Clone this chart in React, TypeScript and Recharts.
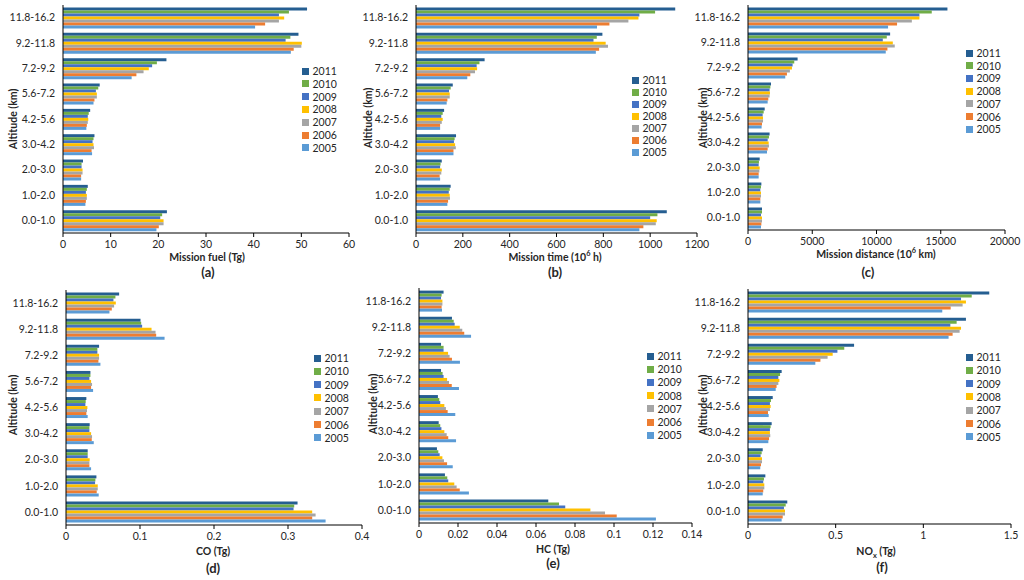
import React from 'react';
import { BarChart, Bar, XAxis, YAxis } from 'recharts';

// altitude bands, top to bottom as drawn
const ALTITUDES = ['11.8-16.2', '9.2-11.8', '7.2-9.2', '5.6-7.2', '4.2-5.6', '3.0-4.2', '2.0-3.0', '1.0-2.0', '0.0-1.0'];
const YEARS = ['2011', '2010', '2009', '2008', '2007', '2006', '2005'];
const COLORS = ['#255E91', '#70AD47', '#4472C4', '#FFC000', '#A5A5A5', '#ED7D31', '#5B9BD5'];

// one row per year (same order as YEARS), one value per altitude band
const FUEL = [
  [51.2, 49.4, 21.7, 7.7, 5.7, 6.6, 4.2, 5.2, 21.8],
  [47.4, 47.7, 19.7, 7.4, 5.4, 6.4, 3.9, 5.0, 20.8],
  [45.3, 46.7, 18.7, 6.9, 5.2, 6.2, 3.9, 4.8, 20.4],
  [46.4, 50.1, 18.0, 7.1, 5.3, 6.4, 4.1, 5.0, 21.1],
  [45.3, 50.0, 16.9, 7.1, 5.2, 6.5, 4.1, 5.0, 21.1],
  [42.4, 48.4, 15.4, 6.6, 5.0, 6.0, 3.8, 4.8, 20.1],
  [40.3, 47.8, 14.4, 6.4, 4.9, 6.1, 3.8, 4.7, 19.6],
];

const TIME = [
  [1107, 796, 293, 157, 120, 171, 110, 148, 1071],
  [1021, 772, 271, 148, 114, 165, 105, 144, 1031],
  [954, 758, 259, 141, 108, 162, 103, 140, 1000],
  [950, 810, 261, 144, 114, 167, 110, 144, 1028],
  [907, 820, 252, 144, 110, 170, 108, 145, 1024],
  [826, 782, 232, 134, 103, 160, 101, 137, 971],
  [773, 768, 219, 131, 103, 160, 103, 134, 954],
];

const DISTANCE = [
  [15520, 11060, 3860, 1790, 1300, 1680, 910, 1040, 1090],
  [14300, 10800, 3600, 1740, 1220, 1630, 850, 1010, 1090],
  [13340, 10490, 3470, 1680, 1140, 1530, 830, 960, 1010],
  [13340, 11270, 3420, 1710, 1170, 1610, 910, 1010, 1090],
  [12750, 11420, 3260, 1680, 1170, 1630, 880, 1010, 1090],
  [11600, 10850, 3030, 1580, 1090, 1530, 830, 960, 1040],
  [10900, 10720, 2900, 1530, 1060, 1480, 830, 960, 1010],
];

const CO = [
  [0.0718, 0.1007, 0.0447, 0.033, 0.0275, 0.032, 0.0293, 0.0411, 0.3129],
  [0.0668, 0.1016, 0.0424, 0.033, 0.0266, 0.0316, 0.0293, 0.0397, 0.3084],
  [0.0641, 0.1029, 0.0424, 0.0316, 0.0262, 0.0316, 0.0293, 0.0393, 0.3075],
  [0.0673, 0.1156, 0.0447, 0.0339, 0.0289, 0.0339, 0.032, 0.0429, 0.3327],
  [0.065, 0.121, 0.0447, 0.0352, 0.0284, 0.0352, 0.0316, 0.0429, 0.3373],
  [0.0619, 0.1219, 0.0438, 0.0339, 0.0275, 0.0348, 0.0316, 0.0415, 0.3327],
  [0.0587, 0.1332, 0.0465, 0.0366, 0.0293, 0.0375, 0.0339, 0.0442, 0.3508],
];

const HC = [
  [0.0126, 0.0169, 0.0113, 0.0113, 0.0097, 0.0101, 0.0092, 0.0133, 0.0663],
  [0.0116, 0.0178, 0.0126, 0.0121, 0.0104, 0.0109, 0.0099, 0.0145, 0.0718],
  [0.0113, 0.0183, 0.0126, 0.0126, 0.0109, 0.0115, 0.0106, 0.015, 0.075],
  [0.012, 0.0209, 0.0149, 0.0144, 0.013, 0.013, 0.012, 0.0181, 0.0879],
  [0.012, 0.0222, 0.0157, 0.0154, 0.0138, 0.0142, 0.0128, 0.0193, 0.0954],
  [0.0116, 0.0232, 0.0169, 0.0168, 0.0147, 0.015, 0.0144, 0.0209, 0.1014],
  [0.0118, 0.0267, 0.021, 0.0205, 0.0186, 0.019, 0.0173, 0.0256, 0.1215],
];

const NOX = [
  [1.376, 1.243, 0.605, 0.192, 0.141, 0.135, 0.084, 0.099, 0.224],
  [1.276, 1.19, 0.549, 0.183, 0.131, 0.129, 0.078, 0.091, 0.215],
  [1.215, 1.154, 0.51, 0.173, 0.125, 0.125, 0.072, 0.087, 0.205],
  [1.243, 1.215, 0.483, 0.179, 0.129, 0.125, 0.08, 0.093, 0.211],
  [1.224, 1.207, 0.454, 0.173, 0.125, 0.127, 0.08, 0.093, 0.211],
  [1.156, 1.167, 0.413, 0.163, 0.114, 0.12, 0.074, 0.087, 0.198],
  [1.108, 1.144, 0.384, 0.158, 0.118, 0.116, 0.07, 0.084, 0.192],
];

const FUEL_TICKS = [0, 10, 20, 30, 40, 50, 60];
const TIME_TICKS = [0, 200, 400, 600, 800, 1000, 1200];
const DISTANCE_TICKS = [0, 5000, 10000, 15000, 20000];
const CO_TICKS = [0, 0.1, 0.2, 0.3, 0.4];
const HC_TICKS = [0, 0.02, 0.04, 0.06, 0.08, 0.1, 0.12, 0.14];
const NOX_TICKS = [0, 0.5, 1, 1.5];

const FONT = 'Lato, "Noto Sans", sans-serif';
const TEXT = '#262626';

type Box = { left: number; right: number; top: number; bottom: number };
type Pt = { x: number; y: number };

interface PanelProps {
  values: number[][];
  ticks: number[];
  plot: Box;
  legend: { x: number; y: number; step: number };
  xTitle: React.ReactNode;
  xTitleAt: Pt;
  yTitleAt: Pt;
  tag: string;
  tagAt: Pt;
}

const Centered: React.FC<{ at: Pt; style?: React.CSSProperties; children: React.ReactNode }> = ({ at, style, children }) => (
  <div
    style={{
      position: 'absolute',
      left: at.x,
      top: at.y,
      transform: 'translate(-50%, -50%)',
      whiteSpace: 'nowrap',
      lineHeight: 1,
      ...style,
    }}
  >
    {children}
  </div>
);

const Panel: React.FC<PanelProps> = ({ values, ticks, plot, legend, xTitle, xTitleAt, yTitleAt, tag, tagAt }) => {
  const rows = ALTITUDES.map((name, i) => {
    const row: Record<string, string | number> = { name };
    YEARS.forEach((y, k) => {
      row['y' + y] = values[k][i];
    });
    return row;
  });

  const yAxisW = 64;
  const padTop = 2;
  const padRight = 22;
  const xAxisH = 24;
  const width = plot.right - plot.left + yAxisW + padRight;
  const height = plot.bottom - plot.top + padTop + xAxisH;

  return (
    <>
      <div style={{ position: 'absolute', left: plot.left - yAxisW, top: plot.top - padTop }}>
        <BarChart
          width={width}
          height={height}
          data={rows}
          layout="vertical"
          margin={{ top: padTop, right: padRight, bottom: 0, left: 0 }}
          barCategoryGap="10%"
          barGap={0}
        >
          <XAxis
            type="number"
            domain={[0, ticks[ticks.length - 1]]}
            ticks={ticks}
            interval={0}
            height={xAxisH}
            axisLine={{ stroke: '#000' }}
            tickLine={{ stroke: '#000' }}
            tickSize={4}
            tickMargin={4}
            tick={{ fontSize: 10.5, fill: TEXT }}
          />
          <YAxis
            type="category"
            dataKey="name"
            width={yAxisW}
            interval={0}
            axisLine={{ stroke: '#000' }}
            tickLine={false}
            tickSize={0}
            tickMargin={8}
            tick={{ fontSize: 10.5, fill: TEXT }}
          />
          {YEARS.map((y, k) => (
            <Bar key={y} dataKey={'y' + y} fill={COLORS[k]} isAnimationActive={false} />
          ))}
        </BarChart>
      </div>

      {YEARS.map((y, k) => (
        <div
          key={y}
          style={{
            position: 'absolute',
            left: legend.x - 3.5,
            top: legend.y + k * legend.step - 6,
            height: 12,
            display: 'flex',
            alignItems: 'center',
            fontSize: 10.5,
            color: TEXT,
          }}
        >
          <span style={{ width: 7, height: 7, background: COLORS[k], marginRight: 4, display: 'inline-block' }} />
          {y}
        </div>
      ))}

      <Centered at={xTitleAt} style={{ fontSize: 10.5, fontWeight: 700, color: TEXT }}>
        {xTitle}
      </Centered>
      <Centered at={yTitleAt} style={{ fontSize: 10.5, fontWeight: 700, color: TEXT, transform: 'translate(-50%, -50%) rotate(-90deg)' }}>
        Altitude (km)
      </Centered>
      <Centered at={tagAt} style={{ fontSize: 13, fontWeight: 700, color: TEXT }}>
        {tag}
      </Centered>
    </>
  );
};

const sup: React.CSSProperties = { fontSize: '0.7em', verticalAlign: 'super', lineHeight: 0 };
const sub: React.CSSProperties = { fontSize: '0.7em', verticalAlign: 'sub', lineHeight: 0 };

export default function App() {
  return (
    <div style={{ position: 'fixed', left: 0, top: 0, width: 1024, height: 580, background: '#fff', fontFamily: FONT, overflow: 'hidden' }}>
      <Panel
        values={FUEL}
        ticks={FUEL_TICKS}
        plot={{ left: 63, right: 349, top: 5, bottom: 233 }}
        legend={{ x: 305, y: 71, step: 12.8 }}
        xTitle="Mission  fuel (Tg)"
        xTitleAt={{ x: 207, y: 257 }}
        yTitleAt={{ x: 13, y: 119 }}
        tag="(a)"
        tagAt={{ x: 208, y: 272 }}
      />
      <Panel
        values={TIME}
        ticks={TIME_TICKS}
        plot={{ left: 416, right: 697, top: 5, bottom: 233 }}
        legend={{ x: 635, y: 80, step: 12 }}
        xTitle={<>Mission  time (10<span style={sup}>6</span> h)</>}
        xTitleAt={{ x: 555, y: 257 }}
        yTitleAt={{ x: 368, y: 118 }}
        tag="(b)"
        tagAt={{ x: 555, y: 272 }}
      />
      <Panel
        values={DISTANCE}
        ticks={DISTANCE_TICKS}
        plot={{ left: 748, right: 1005, top: 5, bottom: 230 }}
        legend={{ x: 969, y: 53, step: 12.7 }}
        xTitle={<>Mission  distance (10<span style={sup}>6</span> km)</>}
        xTitleAt={{ x: 876, y: 254 }}
        yTitleAt={{ x: 703, y: 118 }}
        tag="(c)"
        tagAt={{ x: 868, y: 272 }}
      />
      <Panel
        values={CO}
        ticks={CO_TICKS}
        plot={{ left: 66, right: 362, top: 290, bottom: 525 }}
        legend={{ x: 317, y: 358, step: 13.3 }}
        xTitle="CO (Tg)"
        xTitleAt={{ x: 213, y: 551 }}
        yTitleAt={{ x: 13, y: 405 }}
        tag="(d)"
        tagAt={{ x: 213, y: 568 }}
      />
      <Panel
        values={HC}
        ticks={HC_TICKS}
        plot={{ left: 419, right: 692, top: 288, bottom: 523 }}
        legend={{ x: 650, y: 356, step: 13.2 }}
        xTitle="HC (Tg)"
        xTitleAt={{ x: 553, y: 549 }}
        yTitleAt={{ x: 373, y: 404 }}
        tag="(e)"
        tagAt={{ x: 553, y: 563 }}
      />
      <Panel
        values={NOX}
        ticks={NOX_TICKS}
        plot={{ left: 748, right: 1011, top: 289, bottom: 524 }}
        legend={{ x: 969, y: 357, step: 13.3 }}
        xTitle={<>NO<span style={sub}>x</span> (Tg)</>}
        xTitleAt={{ x: 876, y: 551 }}
        yTitleAt={{ x: 703, y: 405 }}
        tag="(f)"
        tagAt={{ x: 882, y: 567 }}
      />
    </div>
  );
}
